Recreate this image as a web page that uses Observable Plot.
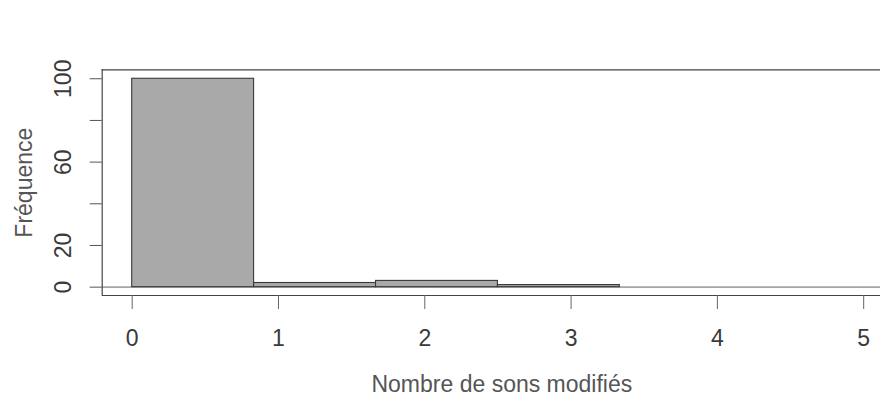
<!DOCTYPE html>
<html>
<head>
<meta charset="utf-8">
<script src="https://cdn.jsdelivr.net/npm/d3@7"></script>
<script src="https://cdn.jsdelivr.net/npm/@observablehq/plot@0.6"></script>
<style>
  html, body { margin: 0; padding: 0; background: #fff; }
  #chart { width: 880px; height: 396px; overflow: hidden; }
</style>
</head>
<body>
<div id="chart"></div>
<script>
// Histogram bins (edges) and counts
const binStart = [0, 0.8333, 1.6667, 2.5];
const binEnd   = [0.8333, 1.6667, 2.5, 3.3333];
const counts   = [100, 2, 3, 1];

const xTicks = [0, 1, 2, 3, 4, 5];
const yTicks = [0, 20, 40, 60, 80, 100];
const yTickLabels = [0, 20, 60, 100];

const xTitle = "Nombre de sons modifiés";
const yTitle = "Fréquence";

const bins = counts.map((c, i) => ({x1: binStart[i], x2: binEnd[i], count: c}));

const xDomain = [-0.205, 5.115];
const yDomain = [-4, 104.3];
const font = "'Liberation Sans', Arial, sans-serif";

const chart = Plot.plot({
  width: 880,
  height: 396,
  marginLeft: 101.7,
  marginRight: 0,
  marginTop: 69.3,
  marginBottom: 101,
  style: {fontFamily: font, fontSize: "23px", color: "#3a3a3a", background: "#fff"},
  x: {domain: xDomain},
  y: {domain: yDomain},
  marks: [
    Plot.ruleY([0], {stroke: "#a5a5a5", strokeWidth: 1.6}),
    Plot.rect(bins, {x1: "x1", x2: "x2", y1: 0, y2: "count", fill: "#a9a9a9", stroke: "#3a3a3a", strokeWidth: 1.1}),
    // plot box (left, top, bottom)
    Plot.ruleX([xDomain[0]], {stroke: "#444", strokeWidth: 1.2}),
    Plot.ruleY([yDomain[1]], {stroke: "#444", strokeWidth: 1.2}),
    Plot.ruleY([yDomain[0]], {stroke: "#444", strokeWidth: 1.2}),
    Plot.axisX({ticks: xTicks, tickFormat: d => String(d), tickSize: 14, tickPadding: 20, stroke: "#666", fill: "#3a3a3a", label: null}),
    Plot.axisY({ticks: yTicks, tickSize: 12, tickFormat: () => "", stroke: "#555", label: null}),
    Plot.text(yTickLabels, {x: xDomain[0], y: d => d, text: d => String(d), rotate: -90, dx: -31.7, lineAnchor: "bottom", textAnchor: "middle", fill: "#3a3a3a"}),
    Plot.text([yTitle], {frameAnchor: "left", text: d => d, rotate: -90, dx: -70, lineAnchor: "bottom", textAnchor: "middle", fill: "#555"}),
    Plot.text([xTitle], {frameAnchor: "bottom", text: d => d, dx: 10.5, dy: 96.7, lineAnchor: "bottom", textAnchor: "middle", fill: "#555", ariaLabel: "xtitle"})
  ]
});

document.getElementById("chart").appendChild(chart);
d3.select(chart).selectAll('g[aria-label="xtitle"] text')
  .attr("textLength", 277)
  .attr("lengthAdjust", "spacingAndGlyphs");
</script>
</body>
</html>
